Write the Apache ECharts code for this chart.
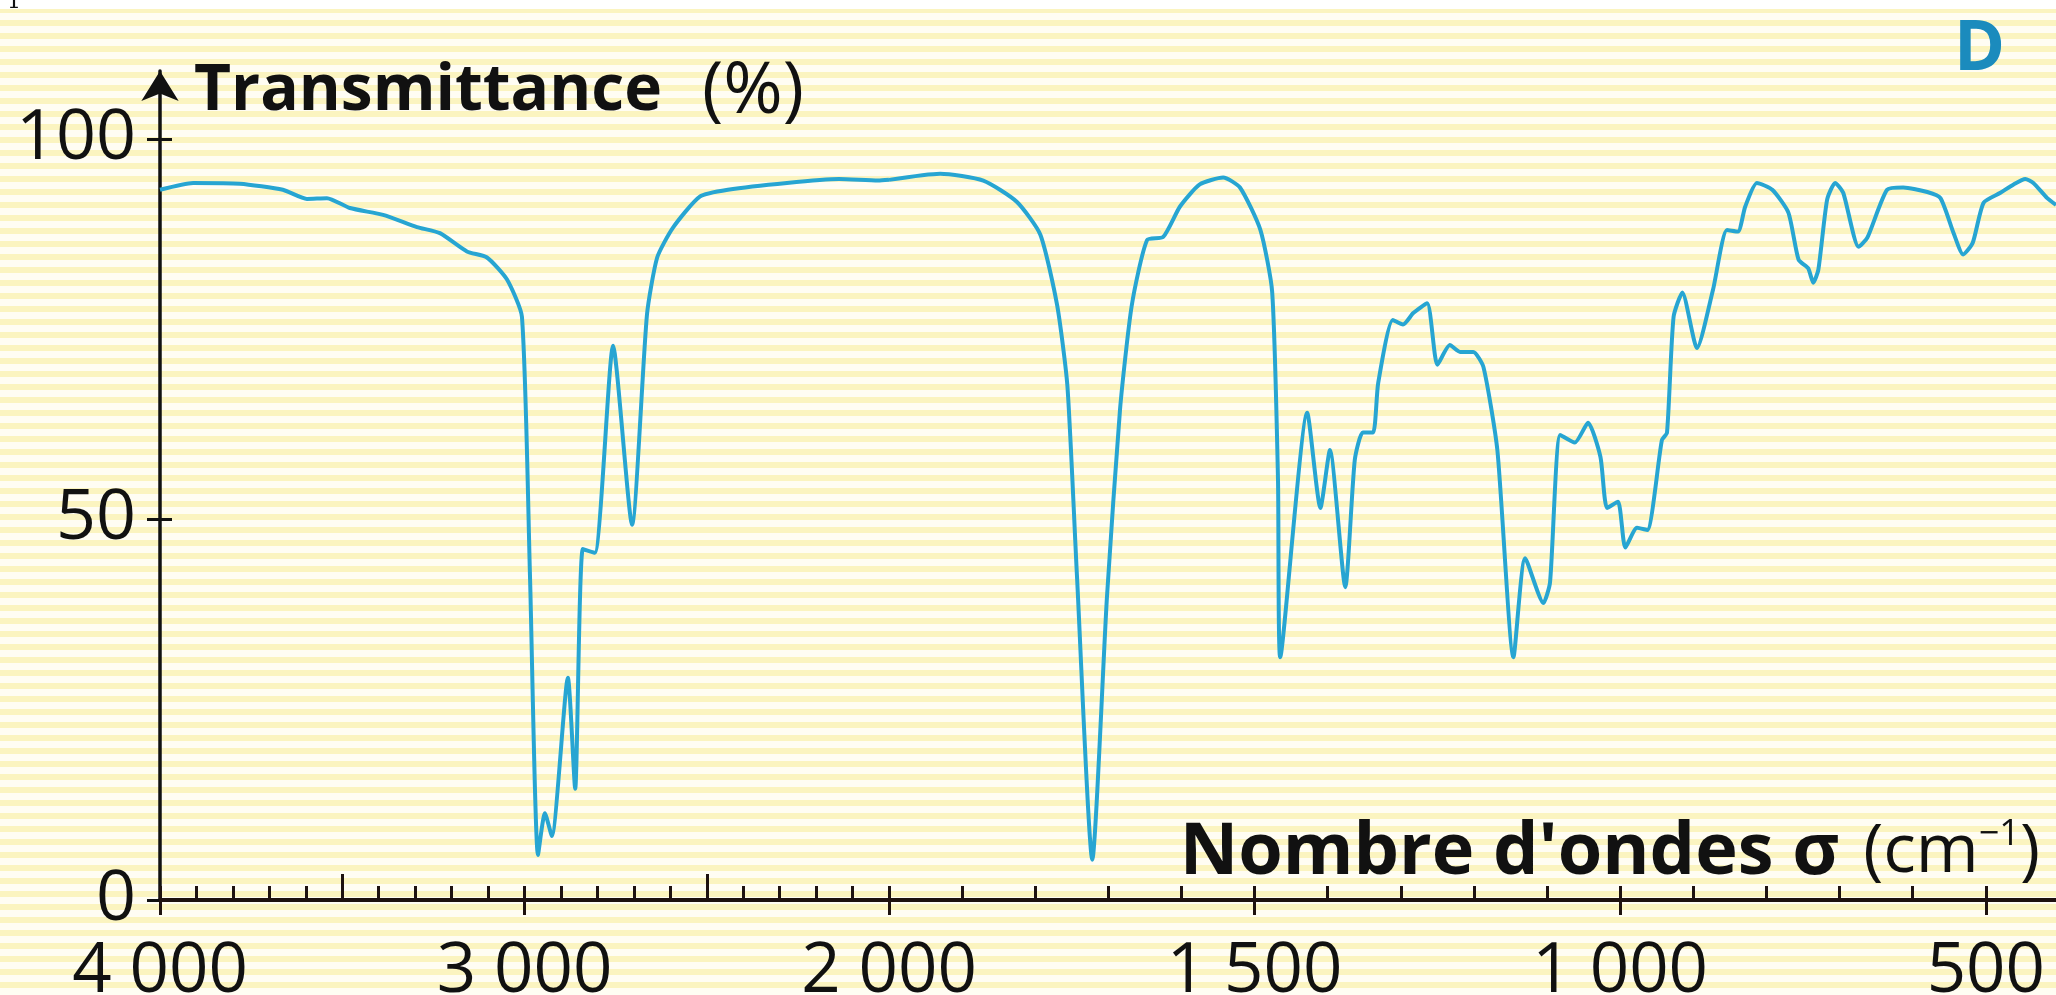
<!DOCTYPE html>
<html>
<head>
<meta charset="utf-8">
<script src="https://cdn.jsdelivr.net/npm/echarts@6/dist/echarts.min.js"></script>
<style>
  html, body { margin: 0; padding: 0; }
  body {
    width: 2056px; height: 995px; overflow: hidden;
    background:
      linear-gradient(to bottom, #ffffff 0px, #ffffff 9px, rgba(255,255,255,0) 9px),
      repeating-linear-gradient(to bottom, #fffdf3 0px, #fffdf3 7px, #fbf4c0 7px, #fbf4c0 13px);
  }
  #chart { width: 2056px; height: 995px; }
</style>
</head>
<body>
<div id="chart"></div>
<script>
// Wavenumber (cm-1) and transmittance (%), high-wavenumber section (4000 -> 2000)
const sigmaLeft = [4000, 3909, 3781, 3663, 3597, 3542, 3479, 3388, 3295, 3232,
                   3158, 3103, 3048, 3007, 2985, 2963, 2944, 2925, 2881, 2861,
                   2840, 2807, 2757, 2705, 2664, 2636, 2593, 2519, 2442, 2280,
                   2137, 2030, 2000];
const transLeft = [93.3, 94.2, 94.1, 93.3, 92.1, 92.2, 90.9, 90.0, 88.4, 87.6,
                   85.2, 84.4, 81.5, 76.6, 42.7, 5.9, 11.4, 8.4, 29.2, 14.6,
                   46.1, 45.6, 72.8, 49.3, 76.9, 84.4, 88.3, 92.4, 93.3, 94.2,
                   94.7, 94.5, 94.6];
// Low-wavenumber section (2000 -> ~404), drawn at double scale
const sigmaRight = [2000, 1930, 1871, 1825, 1793, 1770, 1756, 1743, 1722, 1702,
                    1684, 1668, 1647, 1625, 1602, 1575, 1543, 1520, 1492, 1476,
                    1468, 1465, 1428, 1410, 1397, 1376, 1363, 1352, 1338, 1331,
                    1311, 1297, 1283, 1264, 1250, 1233, 1219, 1201, 1187, 1168,
                    1146, 1130, 1105, 1096, 1082, 1062, 1044, 1027, 1018, 1003,
                    993, 977, 963, 943, 936, 927, 915, 895, 873, 854,
                    839, 829, 813, 792, 770, 756, 743, 736, 729, 717,
                    706, 695, 674, 662, 635, 613, 580, 562, 544, 531,
                    518, 503, 480, 462, 446, 435, 416, 404];
const transRight = [94.6, 95.4, 94.5, 91.7, 87.4, 78.1, 67.5, 42.7, 5.3, 39.7,
                    64.5, 78.1, 86.7, 87.1, 91.1, 94.0, 94.9, 93.6, 88.0, 79.9,
                    55.2, 31.9, 64.0, 51.5, 59.1, 41.1, 57.8, 61.4, 61.4, 67.9,
                    76.2, 75.6, 77.1, 78.4, 70.3, 72.9, 72.0, 72.0, 70.0, 59.1,
                    31.9, 44.9, 39.0, 41.7, 61.1, 60.1, 62.7, 58.2, 51.5, 52.3,
                    46.3, 48.9, 48.6, 60.4, 61.4, 76.6, 79.8, 72.5, 80.2, 88.0,
                    87.8, 91.1, 94.2, 93.3, 90.3, 84.1, 83.0, 81.1, 82.8, 92.0,
                    94.2, 92.9, 85.8, 87.0, 93.3, 93.6, 93.0, 92.2, 87.6, 84.8,
                    86.3, 91.6, 92.9, 94.0, 94.7, 94.2, 92.2, 91.3];

// Tick labels
const xLabelsLeft = [4000, 3000, 2000];
const xLabelsRight = [1500, 1000, 500];
const xMidTicksLeft = [3500, 2500];
const yLabels = [0, 50, 100];

const minorLeft = [];
for (let v = 2100; v < 4000; v += 100) minorLeft.push(v);
const minorRight = [];
for (let v = 500; v < 2000; v += 100) minorRight.push(v);

const fmt = v => {
  const s = String(Math.round(v));
  return s.length > 3 ? s.slice(0, s.length - 3) + ' ' + s.slice(-3) : s;
};

const LINE = '#27a5d2';
const AXIS = '#1e1210';
const FONT = '"Open Sans", "Noto Sans", sans-serif';
const YMAX = 108.9;

const chart = echarts.init(document.getElementById('chart'), null, { renderer: 'canvas' });

const hiddenAxisBits = {
  axisLine: { show: false, onZero: false }, axisLabel: { show: false }, splitLine: { show: false }
};

chart.setOption({
  backgroundColor: 'transparent',
  animation: false,
  title: [
    { text: 'D', left: 1949, top: 11,
      textStyle: { color: '#1b8bbd', fontSize: 69, fontWeight: 'bold', fontFamily: FONT } },
    { text: '1', left: 2, top: -14,
      textStyle: { color: '#111', fontSize: 22, fontWeight: 'normal', fontFamily: '"DejaVu Serif", serif' } }
  ],
  grid: [
    { left: 160, width: 729, top: 71, bottom: 95, containLabel: false, outerBoundsMode: 'none' },
    { left: 889, right: 0, top: 71, bottom: 95, containLabel: false, outerBoundsMode: 'none' }
  ],
  xAxis: [
    { // 0: main left axis
      type: 'value', gridIndex: 0, position: 'bottom', inverse: true, min: 2000, max: 4000,
      axisLine: { show: true, onZero: false, lineStyle: { color: AXIS, width: 4 } },
      axisTick: { show: true, inside: false, length: 15, customValues: xLabelsLeft,
                  lineStyle: { color: AXIS, width: 3 } },
      axisLabel: { show: true, customValues: xLabelsLeft, formatter: fmt, margin: 38,
                   fontSize: 69, color: '#111', fontFamily: FONT },
      splitLine: { show: false }
    },
    { // 1: minor ticks left
      type: 'value', gridIndex: 0, position: 'bottom', inverse: true, min: 2000, max: 4000, ...hiddenAxisBits,
      axisTick: { show: true, inside: true, length: 14, customValues: minorLeft.concat(xLabelsLeft),
                  lineStyle: { color: AXIS, width: 3 } }
    },
    { // 2: mid ticks left
      type: 'value', gridIndex: 0, position: 'bottom', inverse: true, min: 2000, max: 4000, ...hiddenAxisBits,
      axisTick: { show: true, inside: true, length: 26, customValues: xMidTicksLeft,
                  lineStyle: { color: AXIS, width: 3 } }
    },
    { // 3: main right axis
      type: 'value', gridIndex: 1, position: 'bottom', inverse: true, min: 404, max: 2000,
      axisLine: { show: true, onZero: false, lineStyle: { color: AXIS, width: 4 } },
      axisTick: { show: true, inside: false, length: 15, customValues: xLabelsRight,
                  lineStyle: { color: AXIS, width: 3 } },
      axisLabel: { show: true, customValues: xLabelsRight, formatter: fmt, margin: 38,
                   fontSize: 69, color: '#111', fontFamily: FONT },
      splitLine: { show: false },
      name: "{b|Nombre d'ondes σ}{r|(cm}{s|−1}{r|)}",
      nameLocation: 'start', nameGap: -16,
      nameTextStyle: {
        align: 'right', verticalAlign: 'bottom', padding: [0, 0, 11, 0],
        rich: {
          b: { fontSize: 72, fontWeight: 'bold', color: '#111', fontFamily: FONT, padding: [0, 24, 0, 0] },
          r: { fontSize: 68, fontWeight: 'normal', color: '#111', fontFamily: FONT },
          s: { fontSize: 36, fontWeight: 'normal', color: '#111', fontFamily: FONT, verticalAlign: 'top', padding: [0, 0, 30, 0] }
        }
      }
    },
    { // 4: minor ticks right
      type: 'value', gridIndex: 1, position: 'bottom', inverse: true, min: 404, max: 2000, ...hiddenAxisBits,
      axisTick: { show: true, inside: true, length: 14, customValues: minorRight,
                  lineStyle: { color: AXIS, width: 3 } }
    }
  ],
  yAxis: [
    { // 0: main y axis
      type: 'value', gridIndex: 0, position: 'left', min: 0, max: YMAX,
      axisLine: { show: true, onZero: false, symbol: ['none', 'arrow'], symbolSize: [28, 30],
                  lineStyle: { color: '#111', width: 3.5 } },
      axisTick: { show: true, inside: false, length: 13, customValues: yLabels,
                  lineStyle: { color: '#111', width: 3 } },
      axisLabel: { show: true, customValues: yLabels, margin: 24, fontSize: 70,
                   color: '#111', fontFamily: FONT },
      splitLine: { show: false },
      name: '{b|Transmittance}{r|(%)}',
      nameLocation: 'end', nameGap: -21,
      nameTextStyle: {
        align: 'left', verticalAlign: 'middle', padding: [0, 0, 0, 34],
        rich: {
          b: { fontSize: 64, fontWeight: 'bold', color: '#111', fontFamily: FONT, padding: [0, 40, 0, 0] },
          r: { fontSize: 72, fontWeight: 'normal', color: '#111', fontFamily: FONT }
        }
      }
    },
    { // 1: inside ticks y
      type: 'value', gridIndex: 0, position: 'left', min: 0, max: YMAX, ...hiddenAxisBits,
      axisTick: { show: true, inside: true, length: 12, customValues: [50, 100],
                  lineStyle: { color: '#111', width: 3 } }
    },
    { // 2: right grid y axis (hidden)
      type: 'value', gridIndex: 1, min: 0, max: YMAX, show: false
    }
  ],
  series: [
    {
      type: 'line', xAxisIndex: 0, yAxisIndex: 0, symbol: 'none', smooth: 0.2,
      lineStyle: { color: LINE, width: 4 },
      data: sigmaLeft.map((s, i) => [s, transLeft[i]])
    },
    {
      type: 'line', xAxisIndex: 3, yAxisIndex: 2, symbol: 'none', smooth: 0.2,
      lineStyle: { color: LINE, width: 4 },
      data: sigmaRight.map((s, i) => [s, transRight[i]])
    }
  ]
});
</script>
</body>
</html>
